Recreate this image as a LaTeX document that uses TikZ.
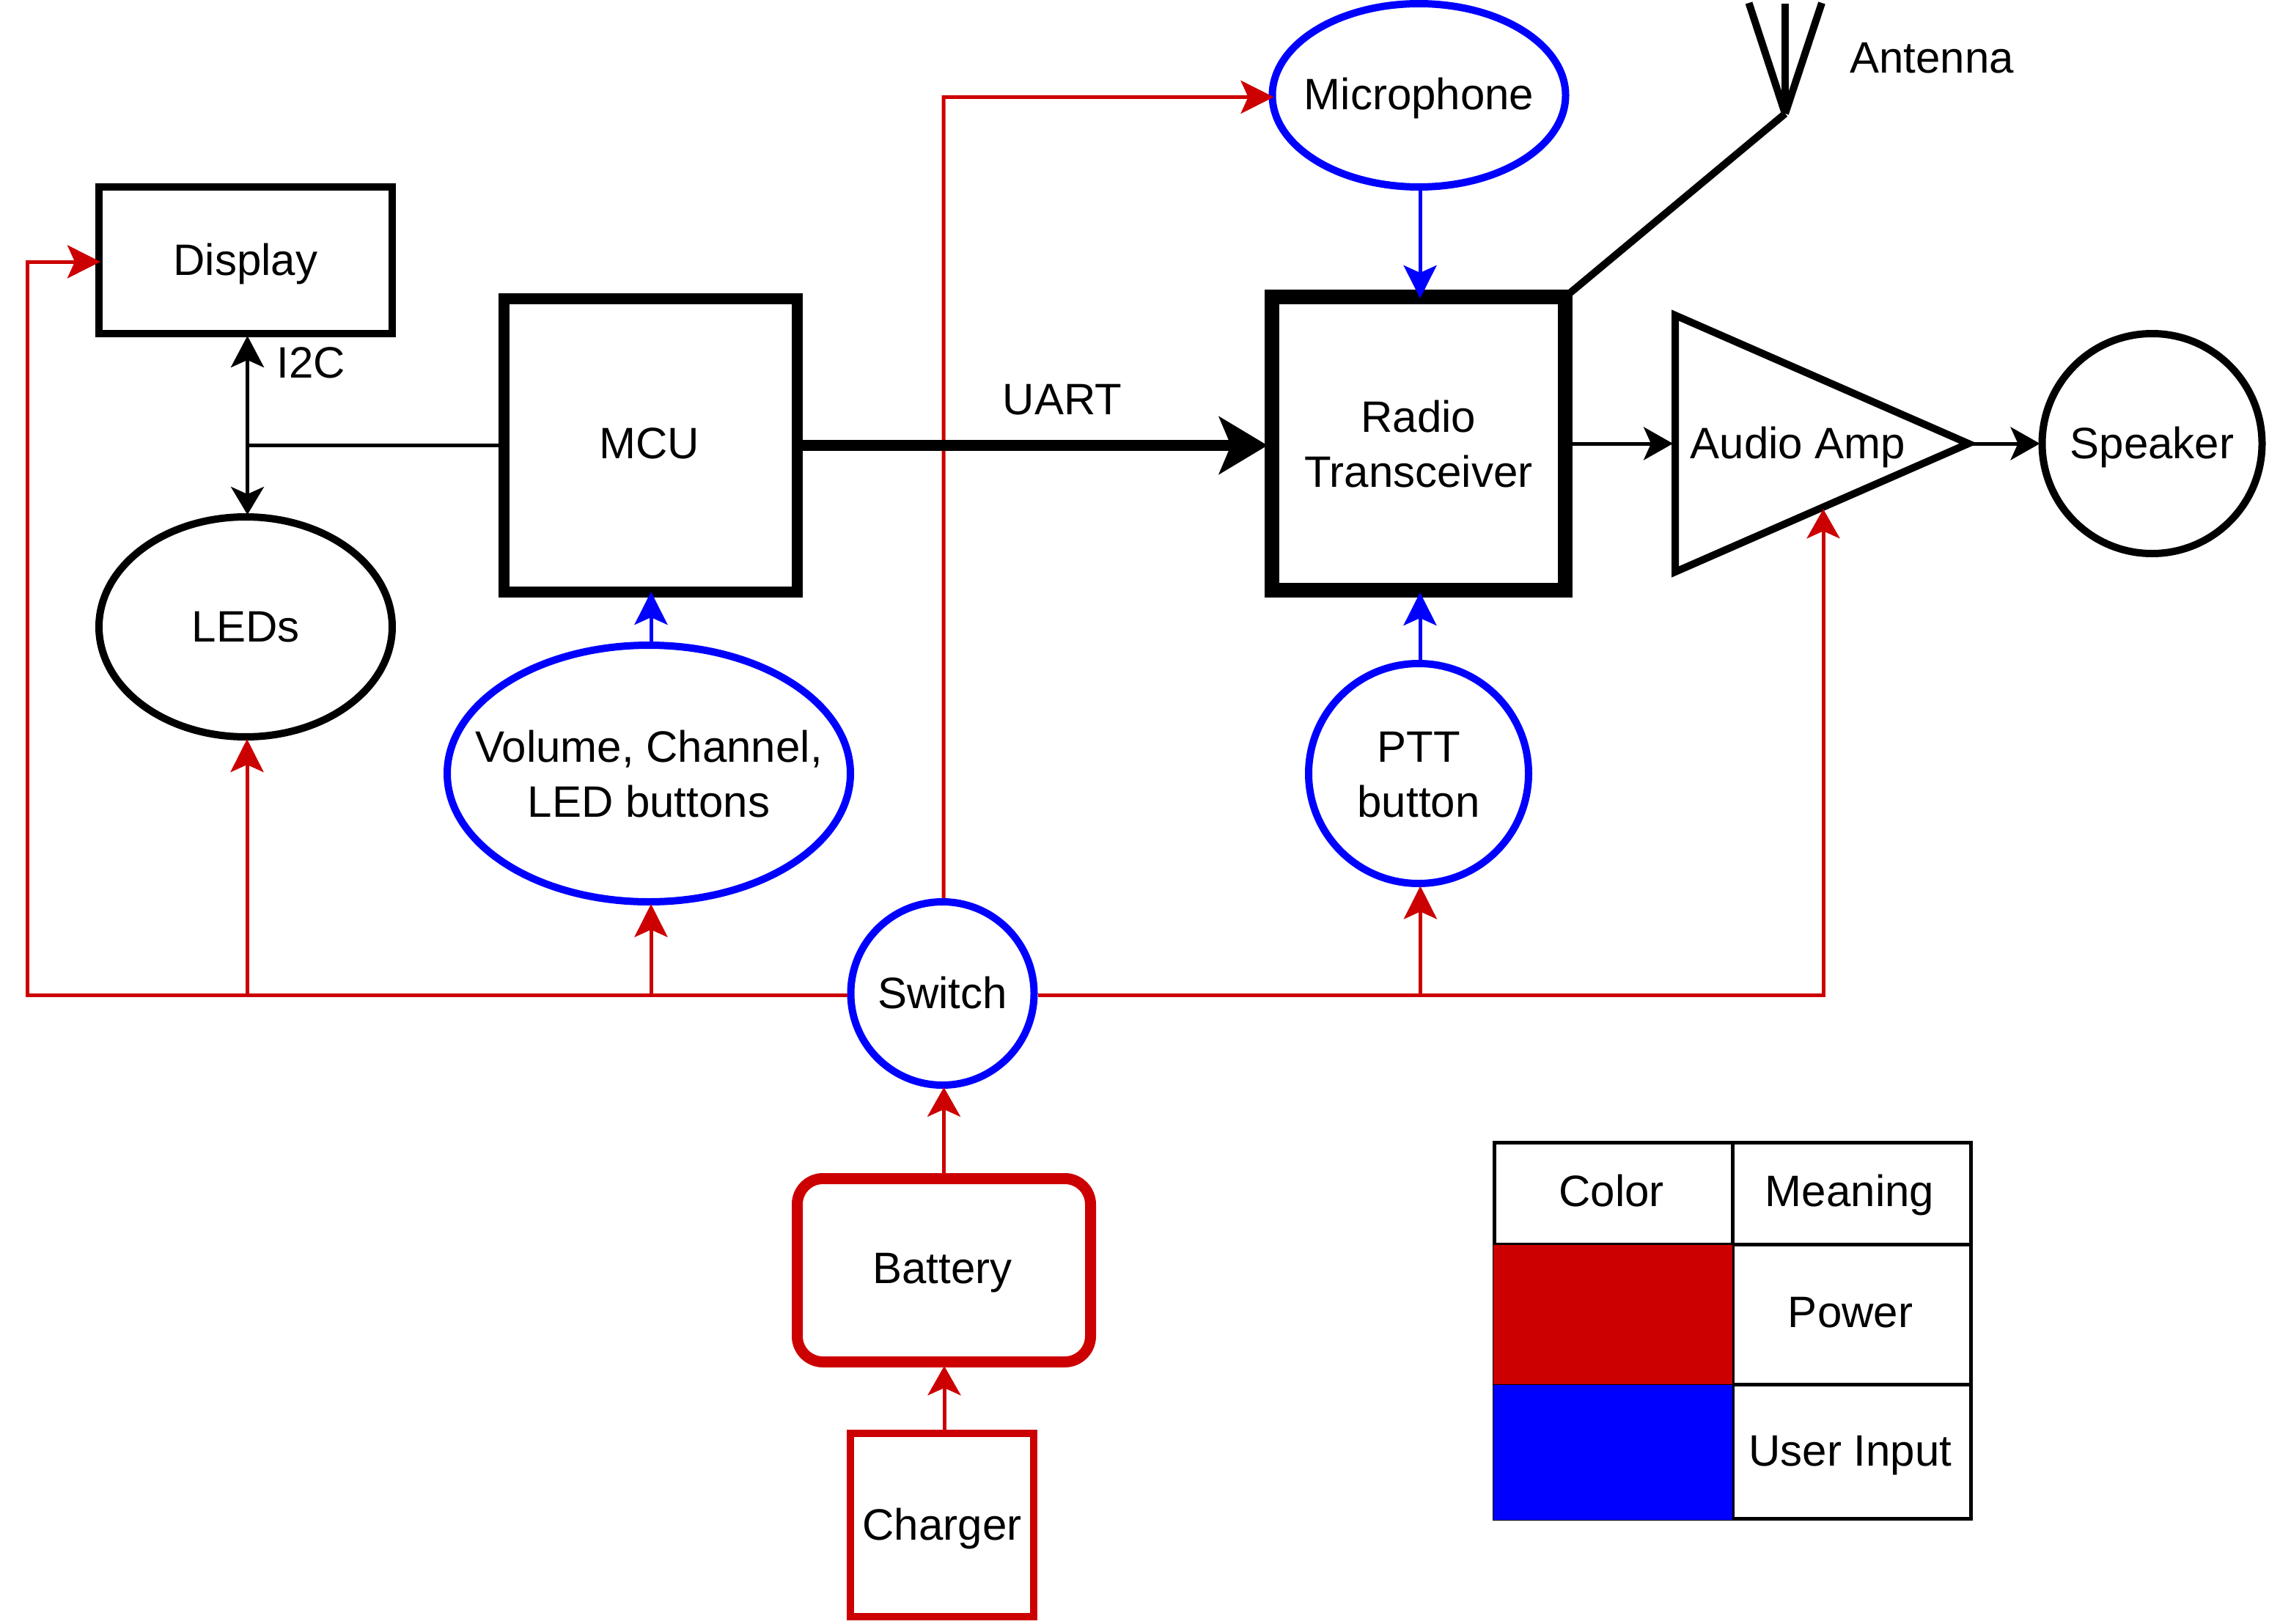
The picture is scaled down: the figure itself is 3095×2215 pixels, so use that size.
\documentclass[tikz,border=0pt]{standalone}
\usepackage{fontspec}
\setmainfont{Liberation Sans}
\usetikzlibrary{arrows.meta,shapes.geometric}
\definecolor{pwred}{HTML}{CC0000}
\definecolor{inblue}{HTML}{0000FF}
\tikzset{
  x=0.25pt,y=-0.25pt,
  every node/.style={inner sep=0pt,font=\fontsize{15}{18.75}\selectfont},
  oneline/.style={text height=13pt,text depth=3pt},
  box/.style={draw,rectangle},
  oval/.style={draw,ellipse,inner xsep=-35pt},
  ring/.style={line width=2.5pt},
  heavy/.style={line width=3.75pt},
  tipA/.style={-{Stealth[length=11.25pt,width=11.25pt,inset=2.5pt]}},
  tipB/.style={-{Stealth[length=10pt,width=11.25pt,inset=2.5pt]},shorten >=-.5pt},
  wire/.style={line width=1.25pt},
  pw/.style={wire,pwred},
  ui/.style={wire,inblue},
  legendcell/.style={draw,rectangle,line width=1.25pt,text height=12pt,text depth=3.25pt},
  swatch/.style={draw,rectangle,line width=0.25pt},
  plain/.style={anchor=base}
}
\newcommand{\firstline}{\rule{0pt}{11.25pt}}
\begin{document}
\begin{tikzpicture}
\path[use as bounding box,fill=white] (0,0) rectangle (3095,2215);

% blocks
\node[box,ring,oneline,minimum width=100pt,minimum height=50pt] (disp) at (335,355) {Display};
\node[oval,ring,oneline,minimum width=100pt,minimum height=75pt] (leds) at (335,855) {LEDs};
\node[box,heavy,oneline,text depth=4pt,minimum width=100pt,minimum height=100pt] (mcu) at (887.5,607.5) {MCU\kern1pt};
\node[box,line width=5pt,align=center,minimum width=100pt,minimum height=100pt] (radio) at (1935,605) {\firstline Radio\\Transceiver};
\node[oval,ring,inblue,text=black,oneline,minimum width=100pt,minimum height=62.5pt] (mic) at (1935.5,130) {Microphone};
\node[oval,ring,inblue,text=black,align=center,minimum width=137.5pt,minimum height=87.5pt] (vol) at (885,1055) {\firstline Volume, Channel,\\LED buttons};
\node[oval,ring,inblue,text=black,align=center,minimum width=75pt,minimum height=75pt] (ptt) at (1935,1055) {\firstline PTT\\button};
\node[oval,ring,inblue,text=black,oneline,minimum width=62.5pt,minimum height=62.5pt] (sw) at (1285.5,1355) {Switch};
\node[box,heavy,pwred,text=black,oneline,text depth=4pt,rounded corners=8.75pt,minimum width=100pt,minimum height=62.5pt] (bat) at (1287.5,1732.5) {Battery\kern1pt};
\node[box,ring,pwred,text=black,oneline,minimum width=62.5pt,minimum height=62.5pt] (chg) at (1285,2080) {Charger};
\node[oval,ring,oneline,minimum width=75pt,minimum height=75pt] (spk) at (2935.5,605) {Speaker};
\node[isosceles triangle,isosceles triangle stretches,draw,ring,shape border rotate=0,
      minimum width=87.5pt,minimum height=100pt,anchor=lower side] (amp) at (2280,605) {};
\node[oneline] (amptxt) at (2452.5,605) {Audio Amp};

% antenna
\coordinate (ant) at (2435,155);
\coordinate (antl) at (2385.5,4);
\coordinate (antm) at (2435,5);
\coordinate (antr) at (2485,4);
\draw[ring] (ant) -- (antl);
\draw[ring] (ant) -- (antm);
\draw[ring] (ant) -- (antr);
\draw[ring] ([xshift=-2.5pt,yshift=-2.5pt]radio.north east) -- (ant);
\node[plain] (antlabel) at (2635,100) {Antenna};

% power wiring
\coordinate (busl) at (37.5,357);
\coordinate (micbend) at (1287,132.5);
\draw[pw,tipA,shorten >=-1.75pt] ([yshift=-.5pt]sw.west) -| (busl) -- ([yshift=-.5pt]disp.west);
\draw[pw,tipA,shorten >=-.5pt] ([yshift=-.5pt]sw.west) -| ([xshift=.5pt]leds.south);
\draw[pw,tipA,shorten >=-.5pt] ([yshift=-.5pt]sw.west) -| ([xshift=.75pt]vol.south);
\draw[pw,tipA,shorten >=-1.75pt] ([xshift=.4pt]sw.north) -- (micbend) -- ([yshift=-.6pt]mic.west);
\draw[pw,tipA,shorten >=-.4pt] ([yshift=-.5pt]sw.east) -| ([xshift=.6pt]ptt.south);
\draw[pw,tipB] ([yshift=-.5pt]sw.east) -| ([xshift=-.5pt]amp.right side);
\draw[pw,tipB] (bat.north) -- (bat.north |- sw.south);
\draw[pw,tipB] ([xshift=.75pt]chg.north) -- ([xshift=.75pt]chg.north |- bat.south);

% user input wiring
\draw[ui,tipA,shorten >=-2pt] ([xshift=.75pt]vol.north) -- ([xshift=.75pt]vol.north |- mcu.south);
\draw[ui,tipA,shorten >=-1.75pt] ([xshift=.5pt]ptt.north) -- ([xshift=.5pt]ptt.north |- radio.south);
\draw[ui,tipA,shorten >=-3pt] ([xshift=.4pt]mic.south) -- ([xshift=.4pt]mic.south |- radio.north);

% signal wiring
\coordinate (i2cj) at (337.5,607.5);
\draw[wire,shorten <=-.5pt,shorten >=-.5pt,{Stealth[length=10.75pt,width=11.25pt,inset=2.5pt]}-{Stealth[length=9.5pt,width=11.25pt,inset=2.5pt]}]
  ([xshift=.625pt]disp.south) -- ([xshift=.625pt]leds.north);
\draw[wire] (mcu.west) -- (i2cj);
\draw[line width=3.75pt,shorten >=-1pt,-{Stealth[length=16.5pt,width=19.5pt,inset=4pt]}] (mcu.east) -- (mcu.east -| radio.west);
\draw[wire,tipB] (radio.east) -- (amp.lower side);
\draw[wire,tipB,shorten <=-2pt] (amp.apex) -- (spk.west);
\node[plain] (i2clabel) at (424,515) {I2C};
\node[plain] (uartlabel) at (1449,565) {UART};

% legend
\node[legendcell,minimum width=81.25pt,minimum height=34.75pt] (lc1) at (2200.5,1627.5) {Color\kern1.25pt};
\node[legendcell,minimum width=81.25pt,minimum height=34.75pt] (lm1) at (2525.5,1627.5) {Meaning\kern1.25pt};
\node[legendcell,minimum width=81.25pt,minimum height=47.75pt] (lc2) at (2200.5,1792.5) {};
\node[legendcell,minimum width=81.25pt,minimum height=47.75pt] (lm2) at (2525.5,1792.5) {Power\kern.75pt};
\node[legendcell,minimum width=81.25pt,minimum height=45.875pt] (lc3) at (2200.5,1979.75) {};
\node[legendcell,text depth=2pt,minimum width=81.25pt,minimum height=45.875pt] (lm3) at (2525.5,1979.75) {User Input\kern.75pt};
\node[swatch,fill=pwred,minimum width=81.875pt,minimum height=47.75pt] (sr) at (2199.75,1792.5) {};
\node[swatch,fill=inblue,minimum width=81.875pt,minimum height=46.375pt] (sb) at (2199.75,1980.75) {};
\end{tikzpicture}
\end{document}
